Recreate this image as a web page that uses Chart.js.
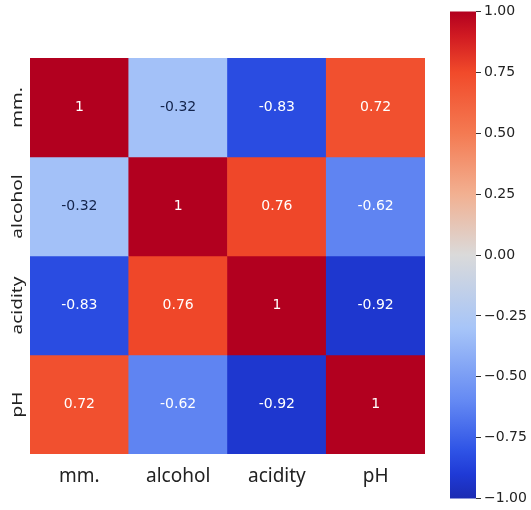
<!DOCTYPE html>
<html>
<head>
<meta charset="utf-8">
<script src="https://cdn.jsdelivr.net/npm/chart.js@4/dist/chart.umd.min.js"></script>
<style>
  body { margin: 0; background: #fff; }
  #wrap { position: relative; width: 531px; height: 510px; }
  #wrap canvas { position: absolute; left: 0; top: 0; }
</style>
</head>
<body>
<div id="wrap">
  <canvas id="heat" width="531" height="510"></canvas>
  <canvas id="bar" width="531" height="510"></canvas>
</div>
<script>
// correlation matrix, one row per variable
const labels = ['mm.', 'alcohol', 'acidity', 'pH'];
const rowMm = [1, -0.32, -0.83, 0.72];
const rowAlcohol = [-0.32, 1, 0.76, -0.62];
const rowAcidity = [-0.83, 0.76, 1, -0.92];
const rowPh = [0.72, -0.62, -0.92, 1];
const rows = [rowMm, rowAlcohol, rowAcidity, rowPh];
const colorbarTicks = [-1, -0.75, -0.5, -0.25, 0, 0.25, 0.5, 0.75, 1];

// colour map stops (value -> colour)
const stops = [
  [-1, '#1b2bb2'], [-0.9, '#1f3ad6'], [-0.8, '#2f54e6'], [-0.6, '#6489f3'],
  [-0.3, '#a7c5f8'], [0, '#dadada'], [0.25, '#f2b091'], [0.5, '#f47a52'],
  [0.75, '#f14a2a'], [0.9, '#d01a22'], [1, '#b2001f']
];

function hexToRgb(h) {
  return [1, 3, 5].map(i => parseInt(h.substr(i, 2), 16));
}

function cmap(v) {
  for (let i = 1; i < stops.length; i++) {
    const [v1, c1] = stops[i];
    const [v0, c0] = stops[i - 1];
    if (v <= v1) {
      const t = (v - v0) / (v1 - v0);
      const a = hexToRgb(c0), b = hexToRgb(c1);
      const c = a.map((x, k) => Math.round(x + (b[k] - x) * t));
      return `rgb(${c[0]},${c[1]},${c[2]})`;
    }
  }
  return stops[stops.length - 1][1];
}

// cell annotations
const cellText = {
  id: 'cellText',
  afterDatasetsDraw(chart) {
    const ctx = chart.ctx;
    ctx.save();
    ctx.font = '14px "DejaVu Sans"';
    ctx.textAlign = 'center';
    ctx.textBaseline = 'middle';
    chart.data.datasets.forEach((ds, i) => {
      const meta = chart.getDatasetMeta(i);
      meta.data.forEach((bar, j) => {
        const p = bar.getProps(['x', 'y', 'base'], true);
        const v = ds.values[j];
        ctx.fillStyle = Math.abs(v) < 0.5 ? '#13234a' : '#ffffff';
        ctx.fillText(String(v), p.x, (p.y + p.base) / 2);
      });
    });
    ctx.restore();
  }
};

// rotated row labels on the left
const rowLabels = {
  id: 'rowLabels',
  afterDraw(chart) {
    const ctx = chart.ctx;
    const y = chart.scales.y;
    ctx.save();
    ctx.font = '19px "Noto Sans"';
    ctx.fillStyle = '#222';
    ctx.textAlign = 'center';
    ctx.textBaseline = 'middle';
    labels.forEach((lab, i) => {
      ctx.save();
      ctx.translate(18, y.getPixelForValue(i + 0.5));
      ctx.rotate(-Math.PI / 2);
      ctx.scale(1, 0.8);
      ctx.fillText(lab, 0, 0);
      ctx.restore();
    });
    ctx.restore();
  }
};

new Chart(document.getElementById('heat'), {
  type: 'bar',
  data: {
    labels: labels,
    datasets: rows.map((row, r) => ({
      data: row.map(() => [r, r + 1]),
      values: row,
      backgroundColor: row.map(cmap),
      borderWidth: 0,
      grouped: false,
      barPercentage: 1,
      categoryPercentage: 1
    }))
  },
  options: {
    responsive: false,
    animation: false,
    layout: { padding: { top: 58, right: 106, left: 0, bottom: 0 } },
    plugins: { legend: { display: false }, tooltip: { enabled: false } },
    scales: {
      x: {
        grid: { display: false },
        border: { display: false },
        ticks: { color: '#222', font: { family: 'Noto Sans', size: 19 }, padding: 3, maxRotation: 0 },
        afterFit: s => { s.height = 56; }
      },
      y: {
        type: 'linear',
        min: 0,
        max: 4,
        reverse: true,
        grid: { display: false },
        border: { display: false },
        ticks: { display: false },
        afterFit: s => { s.width = 30; }
      }
    }
  },
  plugins: [cellText, rowLabels]
});

// colour bar
new Chart(document.getElementById('bar'), {
  type: 'bar',
  data: {
    labels: ['scale'],
    datasets: [{
      data: [[-1, 1]],
      borderWidth: 0,
      barPercentage: 1,
      categoryPercentage: 1,
      backgroundColor(c) {
        const area = c.chart.chartArea;
        if (!area) return null;
        const g = c.chart.ctx.createLinearGradient(0, area.bottom, 0, area.top);
        stops.forEach(([v, col]) => g.addColorStop((v + 1) / 2, col));
        return g;
      }
    }]
  },
  options: {
    responsive: false,
    animation: false,
    layout: { padding: { top: 10, bottom: 8, left: 450, right: 0 } },
    plugins: { legend: { display: false }, tooltip: { enabled: false } },
    scales: {
      x: { display: false },
      y: {
        position: 'right',
        min: -1,
        max: 1,
        afterBuildTicks: s => { s.ticks = colorbarTicks.map(v => ({ value: v })); },
        grid: { drawOnChartArea: false, drawTicks: true, tickLength: 5, tickColor: '#333' },
        border: { display: false },
        ticks: {
          color: '#222',
          padding: 3,
          font: { family: 'DejaVu Sans', size: 14 },
          callback: v => v.toFixed(2).replace('-', '\u2212')
        },
        afterFit: s => { s.width = 55; }
      }
    }
  }
});
</script>
</body>
</html>
